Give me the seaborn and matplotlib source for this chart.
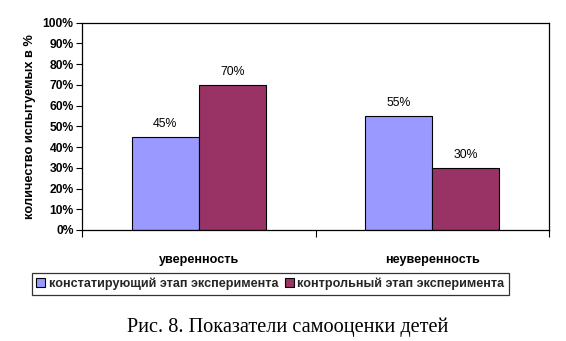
import matplotlib
matplotlib.use("Agg")
import matplotlib.pyplot as plt
import seaborn as sns
import pandas as pd
from matplotlib.ticker import FuncFormatter, FixedLocator

categories = ["уверенность", "неуверенность"]
series_names = ["констатирующий этап эксперимента", "контрольный этап эксперимента"]
values_constat = [45, 55]
values_control = [70, 30]
y_ticks = list(range(0, 101, 10))
colors = ["#9999FF", "#993366"]

df = pd.DataFrame({
    "cat": categories * 2,
    "series": [series_names[0]] * 2 + [series_names[1]] * 2,
    "val": values_constat + values_control,
})

sns.set_theme(style="white")
plt.rcParams["font.family"] = ["Liberation Sans", "DejaVu Sans"]

fig = plt.figure(figsize=(5.66, 3.41), dpi=100)
ax = fig.add_axes([82/566, 1-230/341, (549-82)/566, (230-22.7)/341])

sns.barplot(data=df, x="cat", y="val", hue="series", palette=colors,
            order=categories, hue_order=series_names,
            edgecolor="black", linewidth=0.8, width=0.574, gap=0,
            saturation=1, ax=ax, legend=True)

for cont in ax.containers:
    ax.bar_label(cont, labels=[f"{int(v)}%" for v in cont.datavalues],
                 padding=5, fontsize=8.8, color="black")

ax.set_ylim(0, 100)
ax.set_xlim(-0.5, 1.5)
ax.yaxis.set_major_locator(FixedLocator(y_ticks))
ax.yaxis.set_major_formatter(FuncFormatter(lambda v, p: f"{int(v)}%"))
for lab in ax.get_yticklabels():
    lab.set_fontweight("bold")
ax.tick_params(axis="y", which="major", left=True, length=4, width=0.8,
               color="black", labelsize=8.7, pad=2, labelcolor="black")

ax.set_xticks([0, 1])
ax.set_xticklabels(categories, fontsize=9.1, fontweight="bold", color="black")
ax.tick_params(axis="x", which="major", bottom=False, pad=11)
ax.set_xticks([-0.5, 0.5, 1.5], minor=True)
ax.tick_params(axis="x", which="minor", bottom=True, length=5, width=0.8, color="black")

ax.set_xlabel("")
ax.set_ylabel("количество испытуемых в %", fontsize=9.2, fontweight="bold",
              color="black", labelpad=5)

for s in ax.spines.values():
    s.set_visible(True)
    s.set_color("black")
    s.set_linewidth(0.9)

ax.get_legend().remove()
handles = [plt.Rectangle((0, 0), 1, 1, facecolor=c, edgecolor="black", linewidth=0.8) for c in colors]
leg = fig.legend(handles, series_names, loc="center", bbox_to_anchor=(270.5/566, 1-284/341),
                 ncol=2, frameon=True, fancybox=False, edgecolor="black",
                 prop={"size": 9.1, "weight": "bold"}, handlelength=0.7, handleheight=0.7,
                 handletextpad=0.3, columnspacing=0.5, borderpad=0.35, borderaxespad=0)
leg.get_frame().set_linewidth(0.9)

fig.text(288/566, 1-327/341, "Рис. 8. Показатели самооценки детей",
         ha="center", va="center", fontsize=14.6,
         family=["Liberation Serif", "DejaVu Serif"], color="black")

fig.savefig("out.png", dpi=100, facecolor="white")
